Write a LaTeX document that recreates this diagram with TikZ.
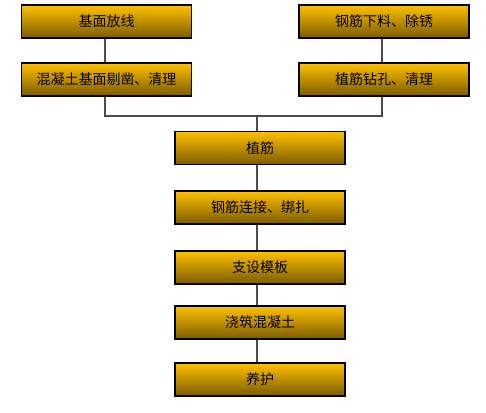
\documentclass[tikz,border=0pt]{standalone}
\usepackage{fontspec}
\setmainfont{Noto Sans CJK SC}
\begin{document}
\begin{tikzpicture}[x=0.75pt,y=-0.75pt]
\tikzset{
  stepbox/.style={draw=black, line width=0.9pt, top color={rgb,255:red,255;green,192;blue,0},
    bottom color={rgb,255:red,122;green,92;blue,0}, minimum width=170*0.75pt,
    minimum height=33*0.75pt, inner sep=0pt, font=\fontsize{10.5pt}{12pt}\selectfont, anchor=center},
  link/.style={draw=gray!60!black, line width=1pt}
}
\useasboundingbox (0,0) rectangle (486,412);
\node[stepbox] (a1) at (106.5,21.5) {基面放线};
\node[stepbox] (a2) at (106.5,79.5) {混凝土基面剔凿、清理};
\node[stepbox] (b1) at (384,21.5) {钢筋下料、除锈};
\node[stepbox] (b2) at (384,79.5) {植筋钻孔、清理};
\node[stepbox] (c1) at (260,148) {植筋};
\node[stepbox] (c2) at (260,207.5) {钢筋连接、绑扎};
\node[stepbox] (c3) at (260,267.5) {支设模板};
\node[stepbox] (c4) at (260,322.5) {浇筑混凝土};
\node[stepbox] (c5) at (260,379.5) {养护};
\coordinate (j) at (257,116);
\draw[link] ([xshift=-1.5*0.75pt]a1.south) -- ([xshift=-1.5*0.75pt]a2.north);
\draw[link] ([xshift=-2*0.75pt]b1.south) -- ([xshift=-2*0.75pt]b2.north);
\draw[link] ([xshift=-1.5*0.75pt]a2.south) |- (j);
\draw[link] ([xshift=-2*0.75pt]b2.south) |- (j);
\draw[link] (j) -- (j |- c1.north);
\draw[link] (j |- c1.south) -- (j |- c2.north);
\draw[link] (j |- c2.south) -- (j |- c3.north);
\draw[link] (j |- c3.south) -- (j |- c4.north);
\draw[link] (j |- c4.south) -- (j |- c5.north);
\end{tikzpicture}
\end{document}
